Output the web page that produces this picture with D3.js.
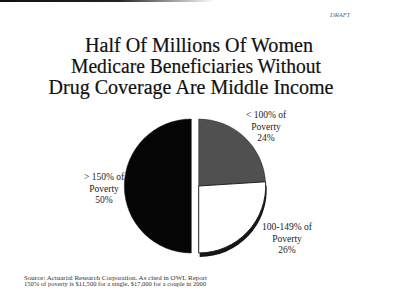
<!DOCTYPE html>
<html>
<head>
<meta charset="utf-8">
<script src="https://cdn.jsdelivr.net/npm/d3@7"></script>
<style>
  html, body { margin: 0; padding: 0; background: #fff; }
  svg { display: block; }
  svg text { font-family: 'Liberation Serif', 'DejaVu Serif', serif; }
</style>
</head>
<body>
<svg id="chart" width="400" height="304"></svg>
<script>
  // Chart data
  const titleLines = [
    'Half Of Millions Of Women',
    'Medicare Beneficiaries Without',
    'Drug Coverage Are Middle Income'
  ];
  const categories = ['< 100% of Poverty', '100-149% of Poverty', '> 150% of Poverty'];
  const values = [24, 26, 50];
  const sourceLines = [
    'Source:  Actuarial Research Corporation.  As cited in OWL Report',
    '150% of poverty is $11,500 for a single, $17,000 for a couple in 2000'
  ];

  const svg = d3.select('#chart');

  // scanner edge at the very top
  const defs = svg.append('defs');
  const fade = defs.append('linearGradient').attr('id', 'topfade');
  fade.append('stop').attr('offset', '0%').attr('stop-color', '#111');
  fade.append('stop').attr('offset', '55%').attr('stop-color', '#222');
  fade.append('stop').attr('offset', '100%').attr('stop-color', '#fff');
  svg.append('rect').attr('x', 0).attr('y', 0).attr('width', 215).attr('height', 2)
    .attr('fill', 'url(#topfade)');

  // handwritten mark
  svg.append('text')
    .attr('x', 330).attr('y', 17)
    .attr('font-size', 6.5).attr('font-style', 'italic')
    .attr('fill', '#666')
    .text('DRAFT');

  // title
  const titleY = [52, 73, 94];
  const titleW = [228, 250, 285];
  const titleX = [199, 196, 191];
  titleLines.forEach((line, i) => {
    svg.append('text')
      .attr('x', titleX[i]).attr('y', titleY[i])
      .attr('text-anchor', 'middle')
      .attr('font-size', 20.5)
      .attr('fill', '#111')
      .attr('stroke', '#111').attr('stroke-width', 0.2)
      .attr('textLength', titleW[i]).attr('lengthAdjust', 'spacingAndGlyphs')
      .text(line);
  });

  // pie
  const cx = 195, cy = 186, r = 67, explode = 3.7;
  const colors = ['#505050', '#ffffff', '#050505'];
  const pie = d3.pie().sort(null).value(d => d)(values);
  const arc = d3.arc().innerRadius(0).outerRadius(r);

  const g = svg.append('g').attr('transform', `translate(${cx},${cy})`);

  pie.forEach((p, i) => {
    // the left half is pulled left, the right half pulled right
    const dx = i === 2 ? -explode : explode;
    const sg = g.append('g').attr('transform', `translate(${dx},0)`);
    if (i === 1) {
      // dark rim under the white slice
      sg.append('path')
        .attr('d', arc(p))
        .attr('transform', 'translate(1,4)')
        .attr('fill', '#151515');
    }
    sg.append('path')
      .attr('d', arc(p))
      .attr('fill', colors[i])
      .attr('stroke', '#222')
      .attr('stroke-width', i === 1 ? 1 : 0.5);
  });

  // slice labels
  const labelPos = [
    { x: 266, y: 118 },
    { x: 287, y: 230 },
    { x: 104, y: 180 }
  ];
  pie.forEach((p, i) => {
    const name = categories[i];
    const cut = name.indexOf(' Poverty');
    const lines = [name.slice(0, cut), 'Poverty', values[i] + '%'];
    const t = svg.append('text')
      .attr('text-anchor', 'middle')
      .attr('font-size', 9.5)
      .attr('fill', '#222');
    lines.forEach((l, k) => {
      t.append('tspan')
        .attr('x', labelPos[i].x)
        .attr('y', labelPos[i].y + k * 11.5)
        .text(l);
    });
  });

  // source note
  const sourceW = [183, 182];
  sourceLines.forEach((line, i) => {
    svg.append('text')
      .attr('x', 24).attr('y', 280 + i * 6)
      .attr('font-size', 5.8)
      .attr('fill', '#333')
      .attr('textLength', sourceW[i]).attr('lengthAdjust', 'spacingAndGlyphs')
      .text(line);
  });
</script>
</body>
</html>
